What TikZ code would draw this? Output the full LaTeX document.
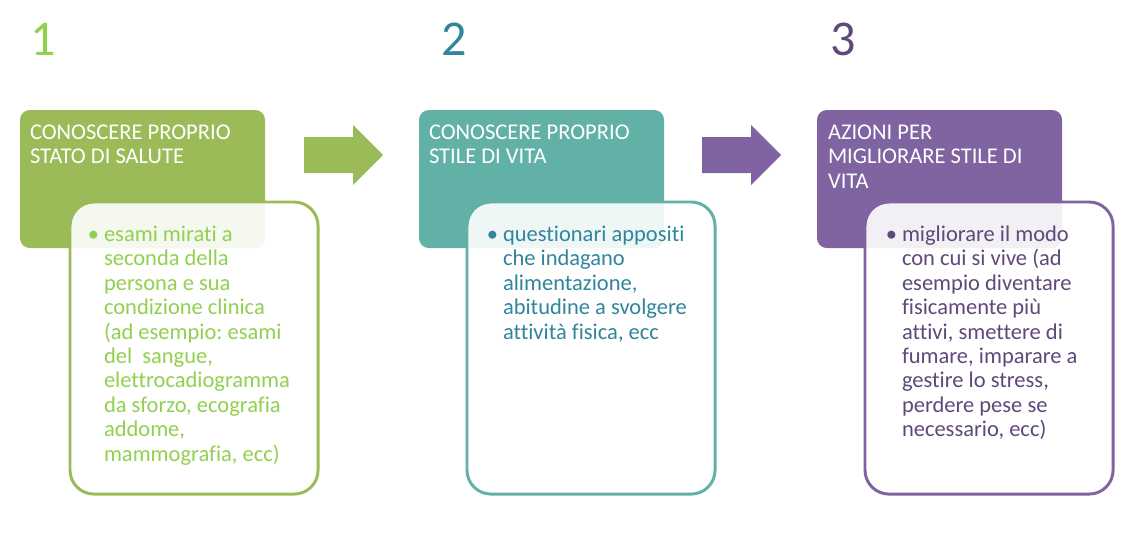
\documentclass[tikz,border=0pt]{standalone}
\usepackage{fontspec}
\setmainfont{Carlito}[Ligatures=NoCommon]
\usetikzlibrary{positioning}
\frenchspacing

\definecolor{verde}{HTML}{9BBB59}
\definecolor{verdetesto}{HTML}{92D050}
\definecolor{acqua}{HTML}{62B1A6}
\definecolor{acquatesto}{HTML}{31859C}
\definecolor{viola}{HTML}{8064A2}
\definecolor{violatesto}{HTML}{5F497A}

\begin{document}
\begin{tikzpicture}[x=0.025cm, y=-0.025cm,
	every node/.style={font=\fontsize{16}{17.4}\selectfont, inner sep=0pt, outer sep=0pt},
	numero/.style={anchor=base west, font=\fontsize{35.6}{40}\selectfont},
	testa/.style={anchor=north west, rounded corners=7pt, minimum width=6.125cm, minimum height=3.45cm},
	corpo/.style={anchor=north west, rounded corners=17pt, line width=2.1pt, fill=white, fill opacity=0.9,
		minimum width=6.2cm, minimum height=7.3cm},
	titolo/.style={anchor=north west, align=left, text=white},
	voce/.style={anchor=north west, align=left},
	punto/.style={anchor=north east}]
	\useasboundingbox (0,0) rectangle (1144,552);
	% numeri
	\node[numero, text=verdetesto] (num1) at (30,55) {1};
	\node[numero, text=acquatesto] (num2) at (441,55) {2};
	\node[numero, text=violatesto] (num3) at (830,55) {3};
	% frecce
	\fill[verde] (304,137) -- (353,137) -- (353,125) -- (383,155) -- (353,185) -- (353,173) -- (304,173) -- cycle;
	\fill[viola] (702,137) -- (751,137) -- (751,125) -- (781,155) -- (751,185) -- (751,173) -- (702,173) -- cycle;
	% passo 1
	\node[testa, fill=verde] (h1) at (20,110) {};
	\node[titolo] (t1) at ([shift={(10,12)}]h1.north west) {\strut CONOSCERE PROPRIO\\ STATO DI SALUTE};
	\node[corpo, draw=verde] (b1) at (70,202) {};
	\node[voce, text=verdetesto] (v1) at ([shift={(34,22)}]b1.north west) {\strut esami mirati a\\ seconda della\\ persona e sua\\ condizione clinica\\ (ad esempio: esami\\ del\ \ sangue,\\ elettrocadiogramma\\ da sforzo, ecografia\\ addome,\\ mammografia, ecc)};
	\node[punto, text=verdetesto] (p1) at ([shift={(-5,0)}]v1.north west) {\strut\textbullet};
	% passo 2
	\node[testa, fill=acqua] (h2) at (419,110) {};
	\node[titolo] (t2) at ([shift={(10,12)}]h2.north west) {\strut CONOSCERE PROPRIO\\ STILE DI VITA};
	\node[corpo, draw=acqua] (b2) at (467,202) {};
	\node[voce, text=acquatesto] (v2) at ([shift={(36,22)}]b2.north west) {\strut questionari appositi\\ che indagano\\ alimentazione,\\ abitudine a svolgere\\ attività fisica, ecc};
	\node[punto, text=acquatesto] (p2) at ([shift={(-5,0)}]v2.north west) {\strut\textbullet};
	% passo 3
	\node[testa, fill=viola] (h3) at (817,110) {};
	\node[titolo] (t3) at ([shift={(11,12)}]h3.north west) {\strut AZIONI PER\\ MIGLIORARE STILE DI\\ VITA};
	\node[corpo, draw=viola] (b3) at (865,202) {};
	\node[voce, text=violatesto] (v3) at ([shift={(37,22)}]b3.north west) {\strut migliorare il modo\\ con cui si vive (ad\\ esempio diventare\\ fisicamente più\\ attivi, smettere di\\ fumare, imparare a\\ gestire lo stress,\\ perdere pese se\\ necessario, ecc)};
	\node[punto, text=violatesto] (p3) at ([shift={(-5,0)}]v3.north west) {\strut\textbullet};
\end{tikzpicture}
\end{document}
